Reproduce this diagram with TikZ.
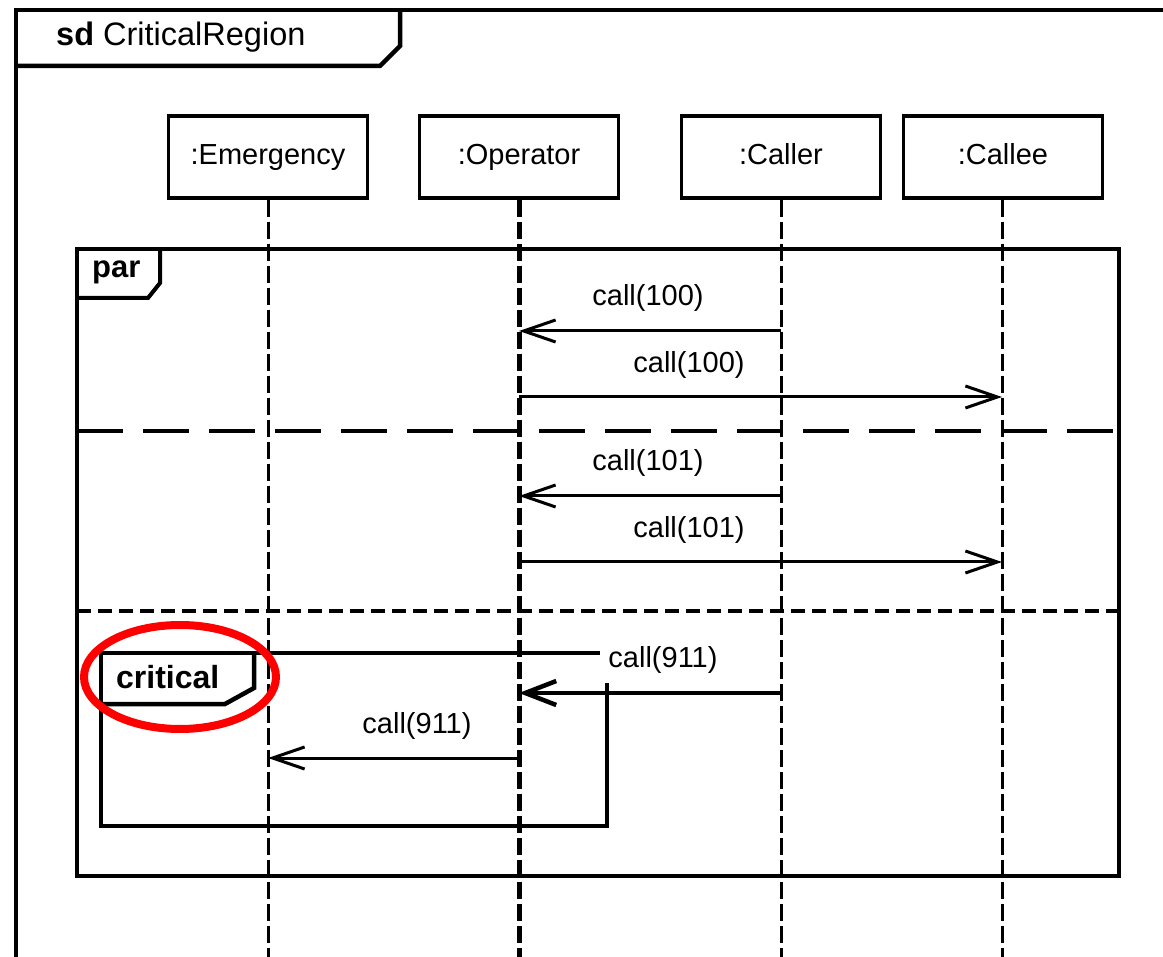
\documentclass[tikz,border=0pt]{standalone}
\usepackage{fontspec}
\setmainfont{Liberation Sans}
\usetikzlibrary{arrows.meta}
\begin{document}
\begin{tikzpicture}[x=1pt,y=-1pt,
  lbl/.style={font=\fontsize{29}{34}\selectfont, inner sep=0pt},
  head/.style={draw, line width=3.5pt, minimum width=199pt, minimum height=82pt,
    font=\fontsize{29}{34}\selectfont, inner sep=0pt, text height=21pt, text depth=6pt},
  life/.style={line width=3pt, dash pattern=on 17pt off 5pt},
  lifeop/.style={line width=5pt, dash pattern=on 17pt off 5pt},
  msg/.style={line width=3pt, -{Straight Barb[length=32pt,width=22pt]}},
  msgthick/.style={line width=4.5pt, -{Straight Barb[length=31pt,width=24pt]}},
  frm/.style={line width=4pt},
  crit/.style={line width=4.5pt},
]
\useasboundingbox (0,0) rectangle (1163,957);
\fill[white] (0,0) rectangle (1163,957);

% outer sd frame
\draw[line width=4.5pt] (16,975) -- (16,10) -- (1180,10);
\draw[line width=4.5pt] (16,66) -- (380,66) -- (400,46) -- (400,10);
\node[lbl, anchor=west, font=\fontsize{32.5}{38}\selectfont] (sdlabel) at (56,37) {\textbf{sd} CriticalRegion};

% lifeline heads
\node[head] (em) at (268,157) {:Emergency};
\node[head] (op) at (519,157) {:Operator};
\node[head] (ca) at (781,157) {:Caller};
\node[head] (ce) at (1003,157) {:Callee};

% lifeline ends
\coordinate (emEnd) at (268,960);
\coordinate (opEnd) at (519,960);
\coordinate (caEnd) at (781,960);
\coordinate (ceEnd) at (1002,960);

\draw[life] (em.south) -- (emEnd);
\draw[lifeop] (op.south) -- (opEnd);
\draw[life] (ca.south) -- (caEnd);
\draw[life] (ce.south -| ceEnd) -- (ceEnd);

% par frame
\draw[frm] (77,249) rectangle (1119,876);
\draw[frm] (77,298) -- (148,298) -- (160,283) -- (160,249);
\node[lbl, anchor=west, font=\bfseries\fontsize{31}{36}\selectfont] (parlabel) at (92,272) {par};

% operand separators
\draw[line width=4.5pt, dash pattern=on 46pt off 20pt] (77,431) -- (1119,431);
\draw[line width=4.5pt, dash pattern=on 14pt off 7pt] (77,611) -- (1119,611);

% message coordinates
\coordinate (c1) at (781,331); \coordinate (o1) at (519,331);
\coordinate (o2) at (519,397); \coordinate (e2) at (1002,397);
\coordinate (c3) at (781,496); \coordinate (o3) at (519,496);
\coordinate (o4) at (519,562); \coordinate (e4) at (1002,562);
\coordinate (c5) at (781,693); \coordinate (o5) at (519,693);
\coordinate (o6) at (519,758); \coordinate (m6) at (268,758);

\draw[msg] (c1) -- (o1);
\draw[msg] (o2) -- (e2);
\draw[msg] (c3) -- (o3);
\draw[msg] (o4) -- (e4);
\draw[msgthick] (c5) -- (o5);
\draw[msg] (o6) -- (m6);

\node[lbl] (l1) at (648,298) {call(100)};
\node[lbl] (l2) at (689,365) {call(100)};
\node[lbl] (l3) at (648,463) {call(101)};
\node[lbl] (l4) at (689,530) {call(101)};
\node[lbl] (l5) at (663,660) {call(911)};
\node[lbl] (l6) at (417,726) {call(911)};

% critical frame
\draw[crit] (600,653) -- (101,653) -- (101,826) -- (607,826) -- (607,683);
\draw[crit] (101,704) -- (225,704) -- (254,688) -- (254,653);
\node[lbl, anchor=west, font=\bfseries\fontsize{32}{37}\selectfont] (critlabel) at (116,677) {critical};

% red highlight
\draw[red, line width=8pt] (180,677) ellipse [x radius=96pt, y radius=52pt];
\end{tikzpicture}
\end{document}
